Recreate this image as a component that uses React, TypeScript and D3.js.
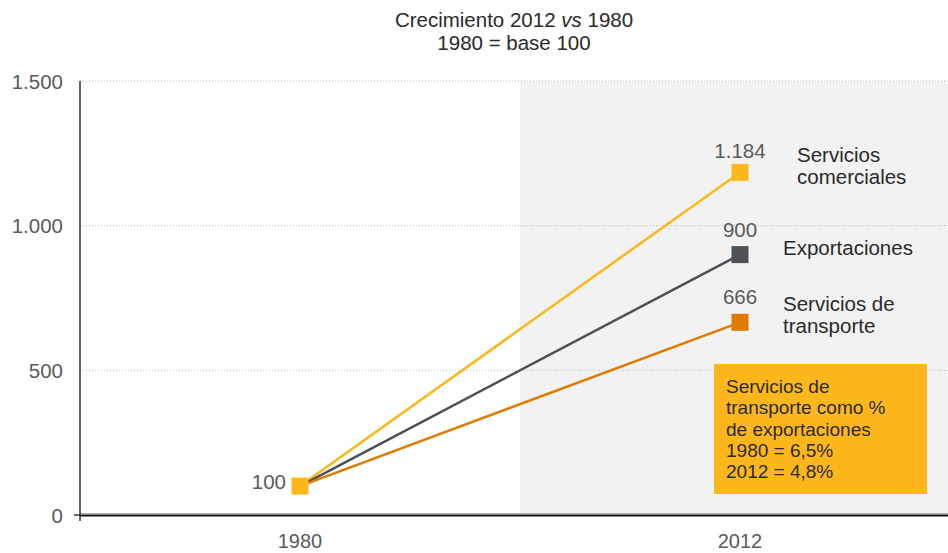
import React from 'react';
import * as d3 from 'd3';

// chart data
const years = ['1980', '2012'];
const seriesNames = ['Servicios comerciales', 'Exportaciones', 'Servicios de transporte'];
const values1980 = [100, 100, 100];
const values2012 = [1184, 900, 666];
const valueLabels2012 = ['1.184', '900', '666'];
const seriesColors = ['#fdb71a', '#4b5257', '#e07b00'];
const yTicks = [0, 500, 1000, 1500];
const boxLines = ['Servicios de', 'transporte como %', 'de exportaciones', '1980 = 6,5%', '2012 = 4,8%'];

const W = 948;
const H = 553;
const left = 80;
const top = 81;
const bottom = 515;

const numFmt = (v: number) => d3.format(',')(v).replace(/,/g, '.');

const App = () => {
  const x = d3.scalePoint<string>().domain(years).range([left, 960]).padding(0.5);
  const y = d3.scaleLinear().domain([0, 1500]).range([bottom, top]);
  const step = x.step();
  const shadeX = (x('2012') as number) - step / 2;
  const font = "'Liberation Sans', Arial, Helvetica, sans-serif";
  const mk = 17;
  const numColor = '#5a5a5a';
  const txtColor = '#2a2a2a';

  // label layout for series names (two-line labels wrap)
  const nameLines = [['Servicios', 'comerciales'], ['Exportaciones'], ['Servicios de', 'transporte']];
  const nameX = [797, 783, 783];
  const nameDy = [-10, 0, -11];
  const valueDy = [-14, -18, -18];

  return (
    <svg width={W} height={H} style={{ position: 'absolute', left: 0, top: 0, background: '#fff' }} fontFamily={font}>
      {/* shaded 2012 region */}
      <rect x={shadeX} y={top} width={W - shadeX} height={bottom - top} fill="#f2f2f2" />

      {/* gridlines */}
      {yTicks.filter(t => t > 0).map(t => (
        <line key={t} x1={left} x2={W} y1={y(t)} y2={y(t)} stroke="#bdbdbd" strokeWidth={1} strokeDasharray="1,2" />
      ))}
      <line x1={left} x2={W} y1={y(0) - 1.5} y2={y(0) - 1.5} stroke="#b0b0b0" strokeWidth={1} />

      {/* title */}
      <text x={514} y={27} textAnchor="middle" fontSize={20.5} fill={txtColor}>
        Crecimiento 2012 <tspan fontStyle="italic">vs</tspan> 1980
      </text>
      <text x={514} y={50} textAnchor="middle" fontSize={20.5} fill={txtColor}>1980 = base 100</text>

      {/* y axis */}
      <line x1={left} x2={left} y1={top} y2={bottom + 6} stroke="#111" strokeWidth={1.3} />
      <line x1={left - 6} x2={left} y1={y(0)} y2={y(0)} stroke="#111" strokeWidth={1.3} />
      {yTicks.map(t => (
        <text key={t} x={63} y={y(t) + 7.5} textAnchor="end" fontSize={20.5} fill={numColor}>
          {numFmt(t)}
        </text>
      ))}

      {/* x axis */}
      <line x1={left} x2={W} y1={y(0) + 0.5} y2={y(0) + 0.5} stroke="#111" strokeWidth={2} />
      {years.map(yr => (
        <text key={yr} x={x(yr)} y={548} textAnchor="middle" fontSize={20} fill={numColor}>{yr}</text>
      ))}

      {/* lines */}
      {seriesNames.map((s, i) => {
        const path = d3.line<[string, number]>()
          .x(d => x(d[0]) as number)
          .y(d => y(d[1]))([[years[0], values1980[i]], [years[1], values2012[i]]]);
        return <path key={s} d={path || ''} fill="none" stroke={seriesColors[i]} strokeWidth={2.5} />;
      })}

      {/* 1980 marker */}
      <rect x={(x('1980') as number) - mk / 2} y={y(values1980[0]) - mk / 2} width={mk} height={mk} fill={seriesColors[0]} />
      <text x={(x('1980') as number) - 14} y={y(values1980[0]) + 2.5} textAnchor="end" fontSize={20.5} fill={numColor}>
        {numFmt(values1980[0])}
      </text>

      {/* 2012 markers, values and names */}
      {seriesNames.map((s, i) => {
        const cx = x('2012') as number;
        const cy = y(values2012[i]);
        return (
          <g key={s}>
            <rect x={cx - mk / 2} y={cy - mk / 2} width={mk} height={mk} fill={seriesColors[i]} />
            <text x={cx} y={cy + valueDy[i]} textAnchor="middle" fontSize={20.5} fill={numColor}>{valueLabels2012[i]}</text>
            <text x={nameX[i]} y={cy + nameDy[i]} fontSize={20.5} fill={txtColor}>
              {nameLines[i].map((l, j) => (
                <tspan key={j} x={nameX[i]} dy={j === 0 ? 0 : 22}>{l}</tspan>
              ))}
            </text>
          </g>
        );
      })}

      {/* note box */}
      <rect x={714} y={364} width={213} height={130} fill="#fdb71a" />
      <text x={726} y={393} fontSize={19} fill={txtColor}>
        {boxLines.map((l, j) => (
          <tspan key={j} x={726} dy={j === 0 ? 0 : 21.3}>{l}</tspan>
        ))}
      </text>
    </svg>
  );
};

export default App;
